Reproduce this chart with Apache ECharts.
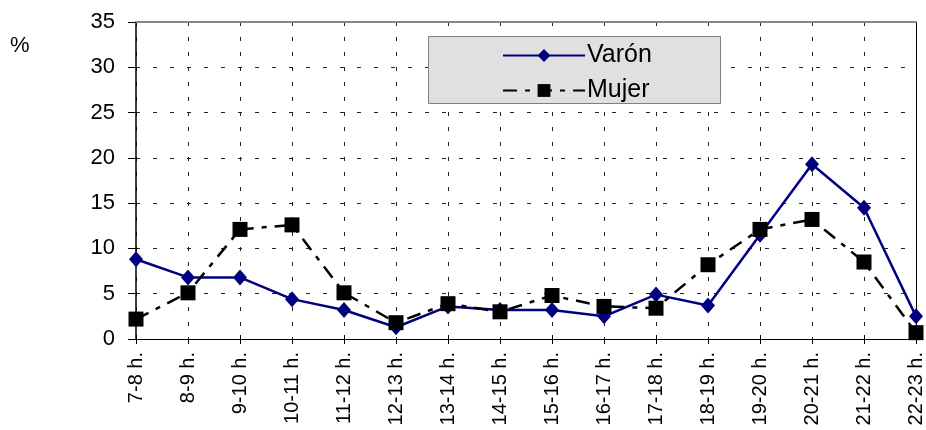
<!DOCTYPE html>
<html><head><meta charset="utf-8">
<script src="https://cdn.jsdelivr.net/npm/echarts@6/dist/echarts.min.js"></script>
<style>html,body{margin:0;padding:0;background:#fff}#c{width:926px;height:430px}</style>
</head><body><div id="c"></div>
<script>
const categories = ["7-8 h.","8-9 h.","9-10 h.","10-11 h.","11-12 h.","12-13 h.","13-14 h.","14-15 h.","15-16 h.","16-17 h.","17-18 h.","18-19 h.","19-20 h.","20-21 h.","21-22 h.","22-23 h."];
const varon = [8.8,6.8,6.8,4.4,3.2,1.3,3.6,3.2,3.2,2.5,4.9,3.7,11.5,19.3,14.5,2.5];
const mujer = [2.2,5.1,12.1,12.6,5.1,1.8,3.9,3.0,4.8,3.6,3.4,8.2,12.1,13.2,8.5,0.7];
const yTicks = {min:0, max:35, interval:5};
const unitLabel = "%";

const FONT = "'Liberation Sans', Arial, sans-serif";
const chart = echarts.init(document.getElementById('c'), null, {renderer:'canvas'});
chart.setOption({
  animation:false,
  backgroundColor:'#fff',
  grid:{left:136, right:5, top:22, bottom:91},
  graphic:[
    {type:'rect', shape:{x:428.5,y:36.5,width:292,height:67}, style:{fill:'#e0e0e0', stroke:'#808080', lineWidth:1}, z:5},
    {type:'text', left:10, top:35, style:{text:unitLabel, font:"22px 'Liberation Sans', Arial", fill:'#000'}}
  ],
  legend:{
    left:497, top:38, orient:'vertical', itemGap:10, itemWidth:82, itemHeight:16,
    z:10,
    textStyle:{fontFamily:FONT, fontSize:25, color:'#000', padding:[0,0,0,-3]},
    data:['Varón','Mujer']
  },
  xAxis:[
    {type:'category', data:categories, boundaryGap:false, position:'bottom',
     axisLine:{lineStyle:{color:'#000', width:1}},
     axisTick:{show:true, length:5, lineStyle:{color:'#000'}},
     axisLabel:{rotate:90, fontFamily:FONT, fontSize:20, color:'#000', margin:13, interval:0},
     splitLine:{show:true, lineStyle:{color:'#222', width:1, type:[4,11]}}},
    {type:'category', data:categories, boundaryGap:false, position:'bottom',
     axisLine:{show:false}, axisTick:{show:true, inside:true, length:4, lineStyle:{color:'#000'}},
     axisLabel:{show:false}, splitLine:{show:false}},
    {type:'category', data:categories, boundaryGap:false, position:'top',
     axisLine:{show:true, lineStyle:{color:'#888', width:2}}, axisTick:{show:false},
     axisLabel:{show:false}, splitLine:{show:false}}
  ],
  yAxis:[
    {type:'value', min:yTicks.min, max:yTicks.max, interval:yTicks.interval,
     axisLine:{show:true, lineStyle:{color:'#000', width:1.5}},
     axisTick:{show:true, length:8, lineStyle:{color:'#000'}},
     axisLabel:{fontFamily:FONT, fontSize:22, color:'#000', margin:21},
     splitLine:{show:true, lineStyle:{color:'#222', width:1, type:[4,13]}}},
    {type:'value', min:yTicks.min, max:yTicks.max, interval:yTicks.interval, position:'right',
     axisLine:{show:true, lineStyle:{color:'#000', width:1}}, axisTick:{show:false},
     axisLabel:{show:false}, splitLine:{show:false}}
  ],
  series:[
    {name:'Varón', type:'line', data:varon, symbol:'diamond', symbolSize:[14,16],
     lineStyle:{color:'#000080', width:2.5}, itemStyle:{color:'#000080'}, z:3},
    {name:'Mujer', type:'line', data:mujer, symbol:'rect', symbolSize:15,
     lineStyle:{color:'#000', width:2.5, type:[14,8,5,8]}, itemStyle:{color:'#000'}, z:4}
  ]
});
</script></body></html>
